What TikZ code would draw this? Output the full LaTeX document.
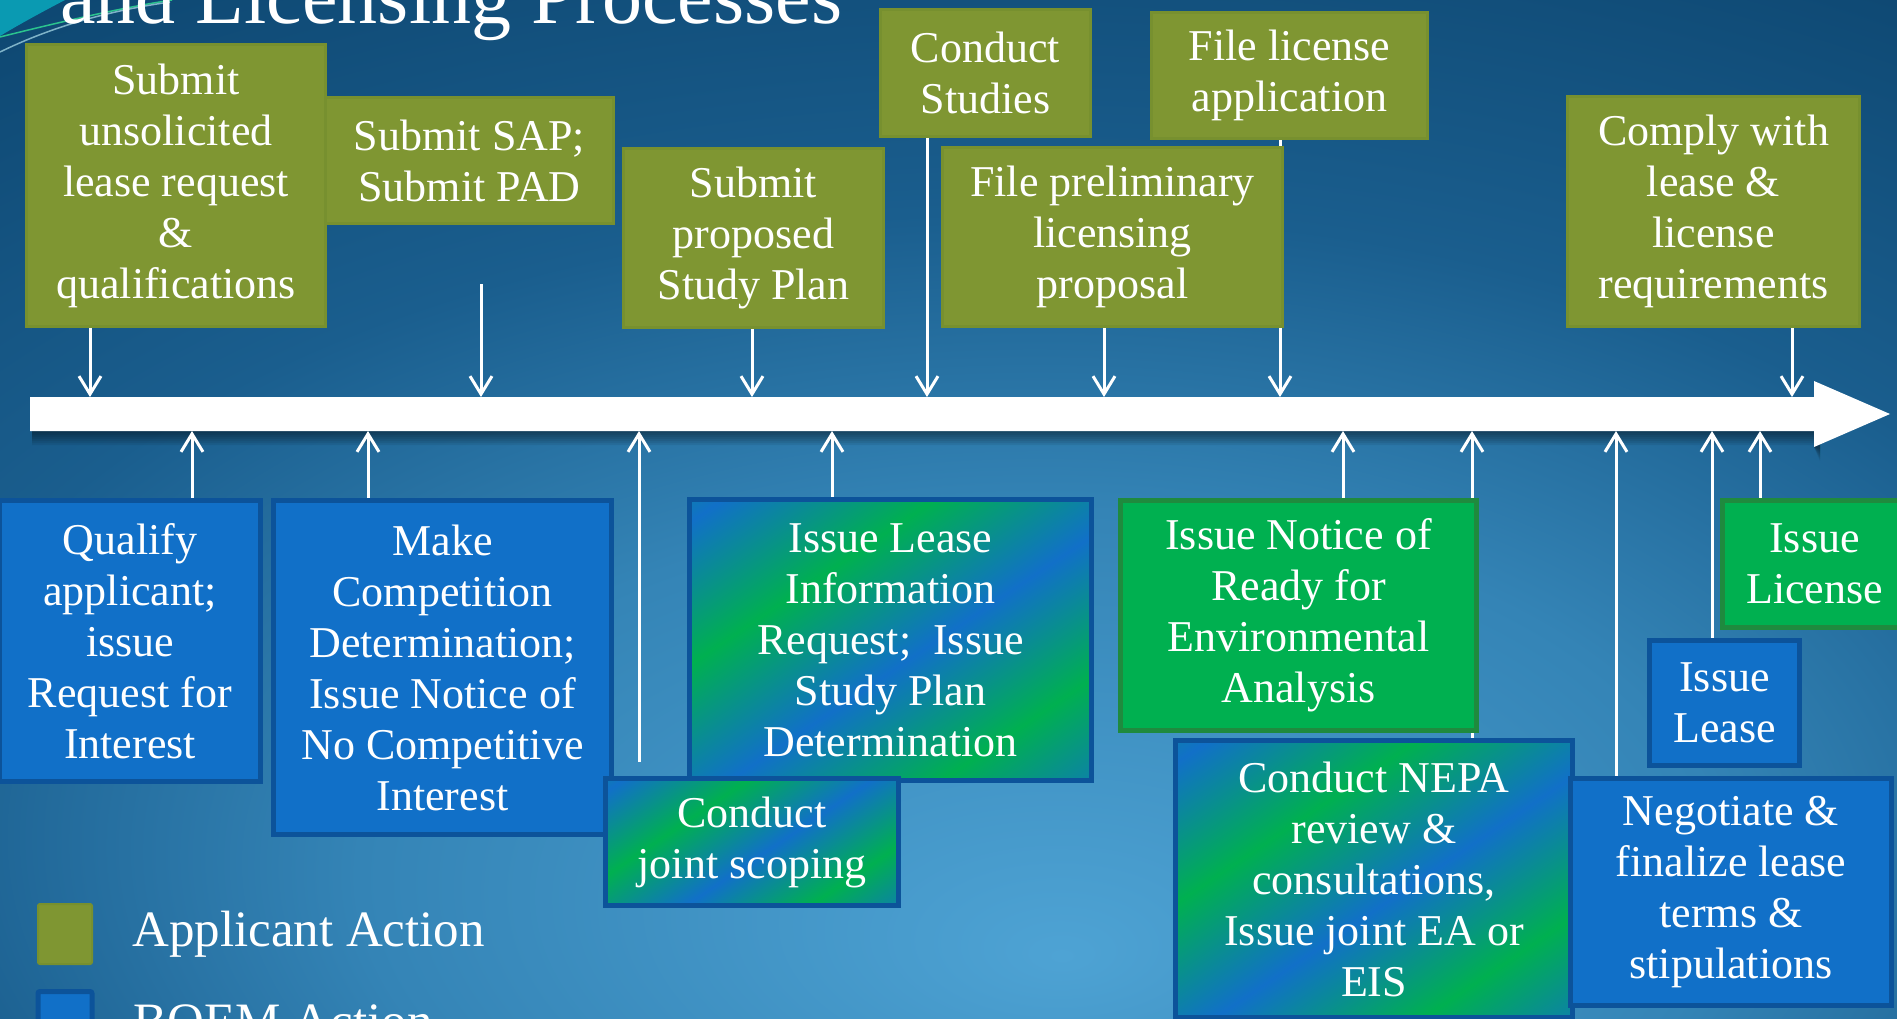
\documentclass[tikz,border=0pt]{standalone}
\usepackage{fontspec}
\setmainfont{Liberation Serif}
\usepackage{tikz}
\usetikzlibrary{positioning}
\usetikzlibrary{arrows.meta}

\definecolor{bgdark}{HTML}{0D4670}
\definecolor{bgdarker}{HTML}{1A5E8E}
\definecolor{bgmid}{HTML}{3484B6}
\definecolor{bglight}{HTML}{4EA3D4}
\definecolor{appfill}{HTML}{7F9632}
\definecolor{appline}{HTML}{77902F}
\definecolor{boemfill}{HTML}{1170C8}
\definecolor{boemline}{HTML}{0C539A}
\definecolor{jointfill}{HTML}{00B050}
\definecolor{jointline}{HTML}{1F8A3E}
\definecolor{swoosh}{HTML}{0A9AB2}
\definecolor{swooshline}{HTML}{2BC48E}
\definecolor{swooshgrey}{HTML}{7FB3C8}

% diagonal green/blue bands of the joint boxes
\pgfdeclarehorizontalshading{gbstripes}{100bp}{color(0bp)=(jointfill); color(18bp)=(boemfill);
  color(36bp)=(jointfill); color(54bp)=(boemfill); color(72bp)=(jointfill); color(90bp)=(boemfill);
  color(100bp)=(jointfill)}
% glow of the slide background
\pgfdeclareradialshading{bgglow}{\pgfpoint{3bp}{-22bp}}{color(0bp)=(bglight); color(18bp)=(bgmid);
  color(30bp)=(bgdarker); color(46bp)=(bgdark); color(100bp)=(bgdark)}

\pgfdeclarelayer{back}
\pgfdeclarelayer{mid}
\pgfsetlayers{back,mid,main}

\begin{document}
\begin{tikzpicture}[ x = 1pt
                     , y = -1pt
                     , >={Straight Barb[length=18pt, width=22pt]}
                     , every node/.style = { rectangle
                                           , anchor = north west
                                           , inner sep = 0pt
                                           , align = center
                                           , text = white
                                           , font = \fontsize{44}{51}\selectfont }
                     , appbox/.style = { fill = appfill, draw = appline, line width = 3pt }
                     , boembox/.style = { fill = boemfill, draw = boemline, line width = 5pt }
                     , greenbox/.style = { fill = jointfill, draw = jointline, line width = 5pt }
                     , jointbox/.style = { shade, shading = gbstripes, shading angle = -56
                                         , draw = boemline, line width = 5pt }
                     , tick/.style = { ->, draw = white, line width = 3pt }
                     ]
  \useasboundingbox (0,0) rectangle (1897,1018);

  %%
  %% Background
  %%
  \begin{pgfonlayer}{back}
    \shade[shading = bgglow] (0,0) rectangle (1897,1018);
    \fill[swoosh] (0,0) -- (65,0) .. controls (42,12) and (20,24) .. (0,36) -- cycle;
    \draw[swooshline, line width = 1.5pt] (0,37) .. controls (60,22) and (120,8) .. (172,0);
    \draw[swooshgrey, line width = 1.5pt] (0,52) .. controls (45,30) and (100,12) .. (170,2);
  \end{pgfonlayer}

  \node (title) [anchor = base west, font = \fontsize{80}{86}\selectfont] at (60,23)
        {and Licensing Processes};

  %%
  %% Timeline
  %%
  \begin{pgfonlayer}{mid}
    % soft shadow under the bar
    \foreach \d in {2,4,...,14}
      \fill[black, opacity = 0.07] (32,431) -- (1814,431) -- (1814,447)
                                   -- (1820,447+\d) -- (1820,431+\d) -- (32,431+\d) -- cycle;
    \fill[white] (30,397) -- (1814,397) -- (1814,381) -- (1890,414)
                 -- (1814,447) -- (1814,431) -- (30,431) -- cycle;
  \end{pgfonlayer}
  % arrow feet on the timeline
  \coordinate (ta) at (90,397);
  \coordinate (tb) at (481,397);
  \coordinate (tc) at (752,397);
  \coordinate (td) at (927,397);
  \coordinate (te) at (1104,397);
  \coordinate (tf) at (1280,397);
  \coordinate (tg) at (1792,397);
  \coordinate (ba) at (192,431);
  \coordinate (bb) at (368,431);
  \coordinate (bc) at (639,431);
  \coordinate (bd) at (832,431);
  \coordinate (be) at (1343,431);
  \coordinate (bf) at (1472,431);
  \coordinate (bg) at (1616,431);
  \coordinate (bh) at (1712,431);
  \coordinate (bi) at (1760,431);
  \coordinate (sapend) at (481,284);
  \coordinate (scopeend) at (639,762);

  %%
  %% Applicant nodes (above the timeline)
  %%
  \node (subsap) [appbox, minimum width = 288, minimum height = 126] at (324,96)
        {Submit SAP;\\Submit PAD};
  \node (subreq) [appbox, minimum width = 299, minimum height = 282] at (25,43)
        {Submit\\unsolicited\\lease request\\\&\\qualifications};
  \node (subplan) [appbox, minimum width = 260, minimum height = 179] at (622,147)
        {Submit\\proposed\\Study Plan};
  \node (constud) [appbox, minimum width = 210, minimum height = 127] at (879,8)
        {Conduct\\Studies};
  \node (filelic) [appbox, minimum width = 276, minimum height = 126] at (1150,11)
        {File license\\application};
  \node (fileprel) [appbox, minimum width = 340, minimum height = 179] at (941,146)
        {File preliminary\\licensing\\proposal};
  \node (comply) [appbox, minimum width = 292, minimum height = 230] at (1566,95)
        {Comply with\\lease \&\\license\\requirements};

  %%
  %% BOEM and joint nodes (below the timeline)
  %%
  \node (qualify) [boembox, minimum width = 261, minimum height = 281] at (-3,498)
        {Qualify\\applicant;\\issue\\Request for\\Interest};
  \node (makecomp) [boembox, minimum width = 338, minimum height = 334] at (271,498)
        {Make\\Competition\\Determination;\\Issue Notice of\\No Competitive\\Interest};
  \node (leaseinfo) [jointbox, minimum width = 402, minimum height = 281] at (687,497)
        {Issue Lease\\Information\\Request;~ Issue\\Study Plan\\Determination};
  \node (jointsc) [jointbox, minimum width = 293, minimum height = 127] at (603,776)
        {Conduct\\joint scoping};
  \node (ready) [greenbox, minimum width = 356, minimum height = 230] at (1118,498)
        {Issue Notice of\\Ready for\\Environmental\\Analysis};
  \node (nepa) [jointbox, minimum width = 397, minimum height = 277] at (1173,738)
        {Conduct NEPA\\review \&\\consultations,\\Issue joint EA or\\EIS};
  \node (negot) [boembox, minimum width = 321, minimum height = 227] at (1568,776)
        {Negotiate \&\\finalize lease\\terms \&\\stipulations};
  \node (issuelease) [boembox, minimum width = 150, minimum height = 125] at (1647,638)
        {Issue\\Lease};
  \node (issuelic) [greenbox, minimum width = 184, minimum height = 127] at (1720,498)
        {Issue\\License};

  %%
  %% Arrows to the timeline
  %%
  \begin{pgfonlayer}{mid}
    % applicant actions
    \draw[tick] (subreq.south -| ta) -- (ta);
    \draw[tick] (sapend) -- (tb);
    \draw[tick] (subplan.south -| tc) -- (tc);
    \draw[tick] (constud.south -| td) -- (td);
    \draw[tick] (fileprel.south -| te) -- (te);
    \draw[tick] (filelic.south -| tf) -- (tf);
    \draw[tick] (comply.south -| tg) -- (tg);
    % BOEM and joint actions
    \draw[tick] (qualify.north -| ba) -- (ba);
    \draw[tick] (makecomp.north -| bb) -- (bb);
    \draw[tick] (scopeend) -- (bc);
    \draw[tick] (leaseinfo.north -| bd) -- (bd);
    \draw[tick] (ready.north -| be) -- (be);
    \draw[tick] (nepa.north -| bf) -- (bf);
    \draw[tick] (negot.north -| bg) -- (bg);
    \draw[tick] (issuelease.north -| bh) -- (bh);
    \draw[tick] (issuelic.north -| bi) -- (bi);
  \end{pgfonlayer}

  %%
  %% Legend
  %%
  \node (legapp) [fill = appfill, draw = appline, line width = 2pt, rounded corners = 2pt
                 , minimum width = 54, minimum height = 60] at (37,903) {};
  \node (legboem) [below = 24pt of legapp, fill = boemfill, draw = boemline, line width = 5pt
                  , rounded corners = 2pt, minimum width = 54, minimum height = 60] {};
  \node (legapptxt) [right = 39pt of legapp, font = \fontsize{51}{58}\selectfont]
        {Applicant Action};
  \node (legboemtxt) [right = 39pt of legboem, font = \fontsize{51}{58}\selectfont]
        {BOEM Action};
\end{tikzpicture}
\end{document}
